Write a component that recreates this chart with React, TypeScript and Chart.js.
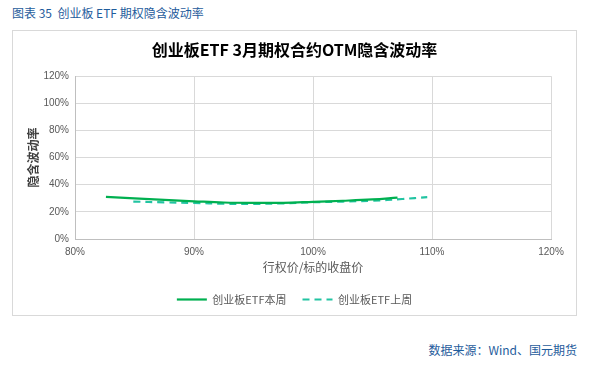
import React, { useEffect, useRef } from "react";
import { Chart, registerables } from "chart.js";

Chart.register(...registerables);

const thisWeekStrikes = [82.6, 85, 87.5, 90, 92.5, 95, 97.5, 100, 102.5, 105, 107.1];
const thisWeekIV = [31.0, 29.9, 28.8, 27.8, 26.9, 26.6, 26.7, 27.4, 28.2, 29.2, 30.5];
const lastWeekStrikes = [84.9, 87.5, 90, 92.5, 95, 97.5, 100, 102.5, 105, 107.5, 109.6];
const lastWeekIV = [27.6, 27.0, 26.6, 26.0, 25.9, 26.3, 27.1, 27.6, 28.2, 29.5, 30.8];
const seriesNames = ["创业板ETF本周", "创业板ETF上周"];
const xTicks = [80, 90, 100, 110, 120];
const yTicks = [0, 20, 40, 60, 80, 100, 120];

const FONT = "'Liberation Sans', Arial, 'Noto Sans CJK SC', sans-serif";
const CJK = "'Noto Sans CJK SC', 'Liberation Sans', sans-serif";

export default function App() {
  const ref = useRef<HTMLCanvasElement | null>(null);
  useEffect(() => {
    if (!ref.current) return;
    const chart = new Chart(ref.current, {
      type: "line",
      data: {
        datasets: [
          {
            label: seriesNames[0],
            data: thisWeekStrikes.map((x, i) => ({ x, y: thisWeekIV[i] })),
            borderColor: "#00b050",
            backgroundColor: "#00b050",
            borderWidth: 2.2,
            pointRadius: 0,
            tension: 0.4,
            fill: false,
          },
          {
            label: seriesNames[1],
            data: lastWeekStrikes.map((x, i) => ({ x, y: lastWeekIV[i] })),
            borderColor: "#22c4a2",
            backgroundColor: "#22c4a2",
            borderWidth: 2.2,
            borderDash: [7, 5],
            pointRadius: 0,
            tension: 0.4,
            fill: false,
          },
        ],
      },
      options: {
        animation: false,
        responsive: false,
        maintainAspectRatio: false,
        layout: { padding: { left: 0, right: 0, top: 0, bottom: 0 } },
        plugins: {
          title: {
            display: true,
            text: "创业板ETF 3月期权合约OTM隐含波动率",
            color: "#000000",
            font: { family: CJK, size: 16, weight: "bold" },
            padding: { top: 9, bottom: 17 },
          },
          legend: {
            position: "bottom",
            labels: {
              usePointStyle: true,
              pointStyle: "line",
              pointStyleWidth: 30,
              color: "#595959",
              font: { family: CJK, size: 11 },
              padding: 16,
              generateLabels: (c: any) => {
                const items = (Chart.defaults.plugins.legend.labels as any).generateLabels(c);
                return items.map((it: any, i: number) => {
                  const ds: any = c.data.datasets[it.datasetIndex ?? i];
                  return {
                    ...it,
                    pointStyle: "line",
                    lineDash: ds.borderDash || [],
                    lineWidth: ds.borderWidth,
                    strokeStyle: ds.borderColor,
                    fillStyle: ds.borderColor,
                  };
                });
              },
            },
          },
          tooltip: { enabled: false },
        },
        scales: {
          x: {
            type: "linear",
            min: xTicks[0],
            max: xTicks[xTicks.length - 1],
            afterBuildTicks: (s: any) => {
              s.ticks = xTicks.map((v) => ({ value: v }));
            },
            afterFit: (s: any) => {
              s.height = 39;
            },
            ticks: {
              color: "#595959",
              font: { family: FONT, size: 10 },
              padding: 7,
              callback: (v: any) => v + "%",
              maxRotation: 0,
            },
            grid: { color: "#d9d9d9", drawTicks: false },
            border: { color: "#bfbfbf" },
            title: {
              display: true,
              text: "行权价/标的收盘价",
              color: "#595959",
              font: { family: CJK, size: 12 },
              padding: { top: 0, bottom: 3 },
            },
          },
          y: {
            min: yTicks[0],
            max: yTicks[yTicks.length - 1],
            afterBuildTicks: (s: any) => {
              s.ticks = yTicks.map((v) => ({ value: v }));
            },
            afterFit: (s: any) => {
              s.width = 62;
            },
            ticks: {
              color: "#595959",
              font: { family: FONT, size: 10 },
              padding: 6,
              callback: (v: any) => v + "%",
            },
            grid: { color: "#d9d9d9", drawTicks: false },
            border: { color: "#bfbfbf" },
            title: {
              display: true,
              text: "隐含波动率",
              color: "#404040",
              font: { family: CJK, size: 12, weight: "bold" },
              padding: { top: 13, bottom: 0 },
            },
          },
          yRightSpace: {
            position: "right",
            min: 0,
            max: 1,
            ticks: { display: false },
            grid: { display: false, drawOnChartArea: false },
            border: { display: false },
            afterFit: (s: any) => {
              s.width = 25;
            },
          },
        },
      },
    });
    return () => chart.destroy();
  }, []);

  return (
    <div style={{ position: "absolute", left: 0, top: 0, width: 592, height: 368, background: "#fff" }}>
      <div
        style={{
          position: "absolute",
          left: 12,
          top: 4,
          fontFamily: CJK,
          fontSize: 12,
          color: "#1f5c9c",
          whiteSpace: "pre",
          lineHeight: "18px",
        }}
      >
        {"图表 35  创业板 ETF 期权隐含波动率"}
      </div>
      <div
        style={{
          position: "absolute",
          left: 12,
          top: 30,
          width: 563,
          height: 284,
          border: "1px solid #d9d9d9",
        }}
      >
        <canvas ref={ref} width={563} height={284} style={{ display: "block" }} />
      </div>
      <div
        style={{
          position: "absolute",
          right: 15,
          top: 341,
          fontFamily: CJK,
          fontSize: 12,
          color: "#1f5c9c",
          lineHeight: "18px",
        }}
      >
        数据来源：Wind、国元期货
      </div>
    </div>
  );
}
